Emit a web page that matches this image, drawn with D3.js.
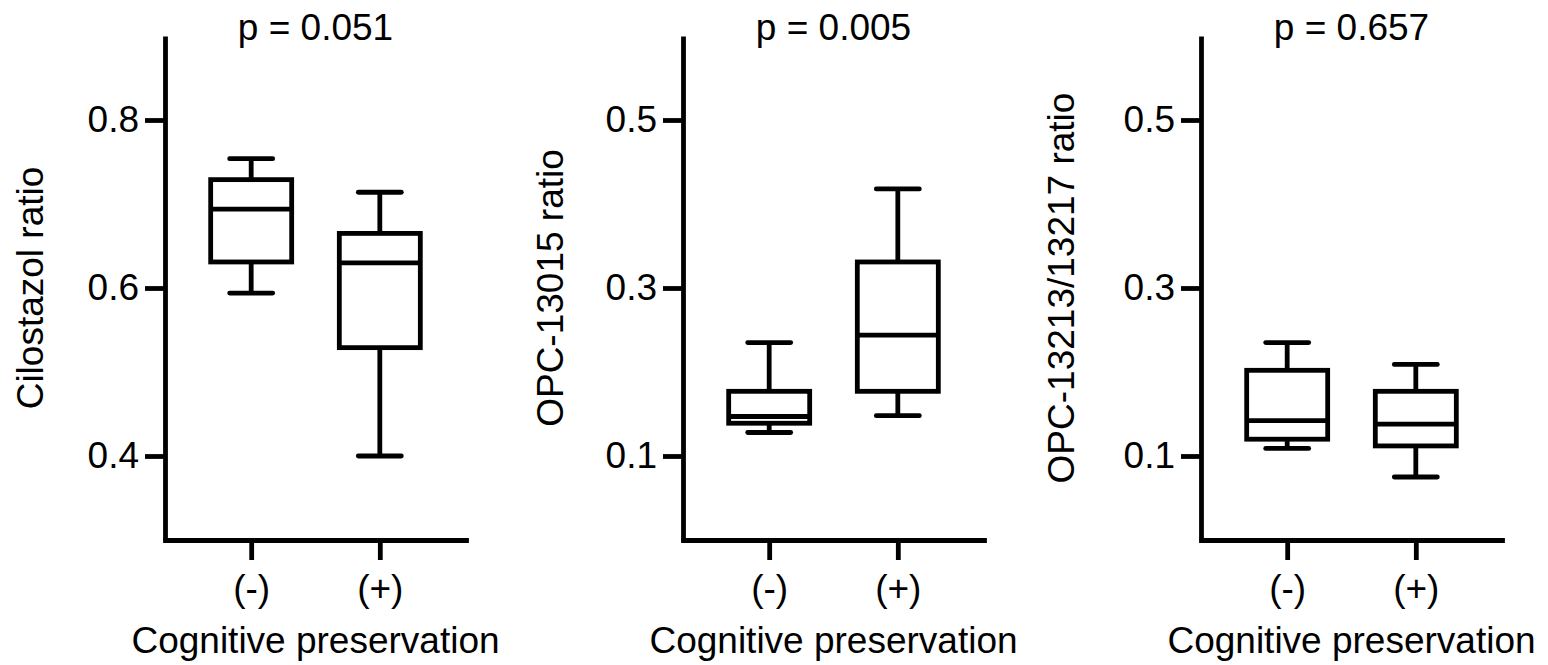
<!DOCTYPE html>
<html>
<head>
<meta charset="utf-8">
<script src="https://cdn.jsdelivr.net/npm/d3@7"></script>
<style>
  body { margin: 0; background: #fff; }
  svg { display: block; }
</style>
</head>
<body>
<div id="chart"></div>
<script>
// box stats per group: [min, q1, median, q3, max]
const groups = ["(-)", "(+)"];
const pLabels = ["p = 0.051", "p = 0.005", "p = 0.657"];
const yTitles = ["Cilostazol ratio", "OPC-13015 ratio", "OPC-13213/13217 ratio"];
const xTitle = "Cognitive preservation";
const yDomains = [[0.3, 0.9], [0, 0.6], [0, 0.6]];
const yTickValues = [[0.4, 0.6, 0.8], [0.1, 0.3, 0.5], [0.1, 0.3, 0.5]];

const cilostazol = [[0.594, 0.631, 0.694, 0.729, 0.754], [0.400, 0.529, 0.630, 0.665, 0.714]];
const opc13015 = [[0.128, 0.139, 0.147, 0.177, 0.235], [0.148, 0.177, 0.244, 0.331, 0.418]];
const opc13213 = [[0.109, 0.120, 0.142, 0.202, 0.235], [0.075, 0.112, 0.138, 0.177, 0.209]];
const panels = [cilostazol, opc13015, opc13213];

const width = 1548, height = 665;
const plotTop = 36, plotBottom = 540, panelW = 301;
const lefts = [165, 683, 1201];
const yTitleOffset = [122, 120, 127];
const boxW = 81, capW = 43, lw = 4.8, fontSize = 37;
const font = "'Liberation Sans', Arial, sans-serif";

const svg = d3.select("#chart")
  .append("svg")
  .attr("width", width)
  .attr("height", height);

panels.forEach((stats, i) => {
  const x0 = lefts[i];
  const x = d3.scalePoint()
    .domain(groups)
    .range([x0, x0 + panelW])
    .padding(0.67);
  const y = d3.scaleLinear()
    .domain(yDomains[i])
    .range([plotBottom, plotTop]);

  const g = svg.append("g");

  // axes
  const xa = g.append("g")
    .attr("transform", `translate(0,${plotBottom})`)
    .call(d3.axisBottom(x).tickSize(20).tickSizeOuter(0).tickPadding(15));
  const ya = g.append("g")
    .attr("transform", `translate(${x0},0)`)
    .call(d3.axisLeft(y).tickValues(yTickValues[i]).tickFormat(d3.format(".1f"))
      .tickSize(20).tickSizeOuter(0).tickPadding(6));

  [xa, ya].forEach(a => {
    a.attr("font-size", fontSize).attr("font-family", font);
    a.selectAll("path, line").attr("stroke", "#000").attr("stroke-width", lw);
  });
  xa.select(".domain").attr("stroke-linecap", "square");

  // titles
  g.append("text")
    .attr("x", x0 + panelW / 2)
    .attr("y", 40)
    .attr("text-anchor", "middle")
    .attr("font-size", fontSize)
    .attr("font-family", font)
    .text(pLabels[i]);

  g.append("text")
    .attr("x", x0 + panelW / 2)
    .attr("y", 653)
    .attr("text-anchor", "middle")
    .attr("font-size", fontSize)
    .attr("font-family", font)
    .text(xTitle);

  g.append("text")
    .attr("transform", `translate(${x0 - yTitleOffset[i]},${(plotTop + plotBottom) / 2}) rotate(-90)`)
    .attr("text-anchor", "middle")
    .attr("font-size", fontSize)
    .attr("font-family", font)
    .text(yTitles[i]);

  // boxes
  const boxes = g.selectAll(".box")
    .data(stats)
    .join("g")
    .attr("class", "box")
    .attr("fill", "none")
    .attr("stroke", "#000")
    .attr("stroke-width", lw);

  const cx = (d, j) => x(groups[j]);

  // whiskers
  boxes.append("line")
    .attr("x1", cx).attr("x2", cx)
    .attr("y1", d => y(d[3])).attr("y2", d => y(d[4]));
  boxes.append("line")
    .attr("x1", cx).attr("x2", cx)
    .attr("y1", d => y(d[1])).attr("y2", d => y(d[0]));

  // caps
  [0, 4].forEach(k => {
    boxes.append("line")
      .attr("stroke-linecap", "round")
      .attr("x1", (d, j) => cx(d, j) - capW / 2)
      .attr("x2", (d, j) => cx(d, j) + capW / 2)
      .attr("y1", d => y(d[k])).attr("y2", d => y(d[k]));
  });

  boxes.append("rect")
    .attr("fill", "#fff")
    .attr("x", (d, j) => cx(d, j) - boxW / 2)
    .attr("width", boxW)
    .attr("y", d => y(d[3]))
    .attr("height", d => y(d[1]) - y(d[3]));

  // median
  boxes.append("line")
    .attr("x1", (d, j) => cx(d, j) - boxW / 2)
    .attr("x2", (d, j) => cx(d, j) + boxW / 2)
    .attr("y1", d => y(d[2])).attr("y2", d => y(d[2]));
});
</script>
</body>
</html>
